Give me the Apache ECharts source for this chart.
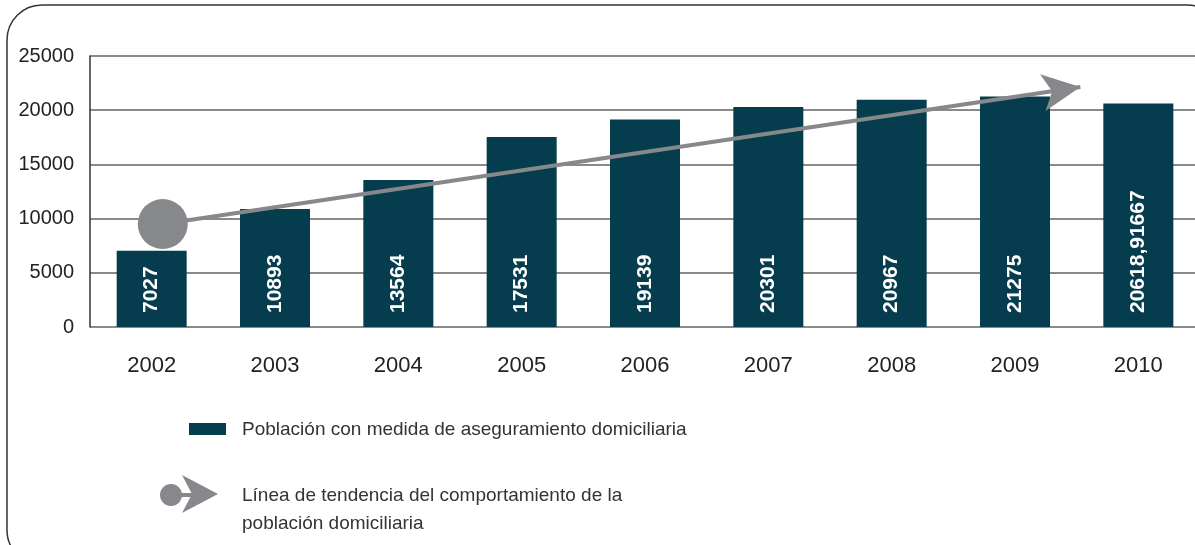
<!DOCTYPE html>
<html lang="es">
<head>
    <meta charset="UTF-8">
    <title>Población domiciliaria</title>
    <script src="https://cdn.jsdelivr.net/npm/echarts@6/dist/echarts.min.js"></script>
    <style>
        html, body { margin: 0; padding: 0; background: #fff; overflow: hidden; }
        #container { width: 1205px; height: 545px; }
    </style>
</head>
<body>
<div id="container"></div>

<script type="text/javascript">
    // datos
    var years = ['2002', '2003', '2004', '2005', '2006', '2007', '2008', '2009', '2010'];
    var poblacion = [7027, 10893, 13564, 17531, 19139, 20301, 20967, 21275, 20618.91667];
    var barLabels = ['7027', '10893', '13564', '17531', '19139', '20301', '20967', '21275', '20618,91667'];
    var yTicks = [0, 5000, 10000, 15000, 20000, 25000];

    // línea de tendencia: inicio (círculo) y punta de la flecha, en posición de categoría
    var trendX = [0.09, 7.53];
    var trendY = [9500, 22140];

    var legendBar = 'Población con medida de aseguramiento domiciliaria';
    var legendTrend = ['Línea de tendencia del comportamiento de la', 'población domiciliaria'];

    var barColor = '#053d4e';
    var trendColor = '#87888b';
    var font = '"Liberation Sans", Arial, sans-serif';

    var myChart = echarts.init(document.getElementById('container'), null, {renderer: 'canvas'});

    var option = {
        animation: false,
        backgroundColor: '#fff',
        grid: {left: 90, top: 56, width: 1110, height: 271},
        xAxis: [
            {
                type: 'category',
                data: years,
                axisLine: {show: false},
                axisTick: {show: false},
                axisLabel: {color: '#222', fontSize: 22, fontFamily: font, margin: 28}
            },
            {
                type: 'value',
                min: -0.5,
                max: years.length - 0.5,
                show: false
            }
        ],
        yAxis: {
            type: 'value',
            min: yTicks[0],
            max: yTicks[yTicks.length - 1],
            interval: 5000,
            axisLine: {show: true, onZero: false, lineStyle: {color: '#333', width: 1.5}},
            axisTick: {show: false},
            axisLabel: {
                color: '#222', fontSize: 20, fontFamily: font, margin: 16,
                formatter: function (v) { return String(v); }
            },
            splitLine: {lineStyle: {color: '#8a8a8a', width: 2}}
        },
        series: [
            {
                name: legendBar,
                type: 'bar',
                data: poblacion,
                barWidth: 70,
                itemStyle: {color: barColor},
                label: {
                    show: true,
                    position: 'insideBottom',
                    rotate: 90,
                    align: 'left',
                    verticalAlign: 'middle',
                    distance: 14,
                    color: '#fff',
                    fontWeight: 'bold',
                    fontSize: 21,
                    fontFamily: font,
                    formatter: function (p) { return barLabels[p.dataIndex]; }
                },
                z: 2
            },
            {
                type: 'line',
                xAxisIndex: 1,
                data: [
                    {value: [trendX[0], trendY[0]], symbol: 'circle', symbolSize: 50},
                    {value: [trendX[1], trendY[1]], symbol: 'arrow', symbolSize: [28, 38], symbolRotate: -81.5}
                ],
                showSymbol: true,
                lineStyle: {color: trendColor, width: 4},
                itemStyle: {color: trendColor, borderWidth: 0},
                z: 5
            }
        ],
        graphic: [
            // marco redondeado
            {
                type: 'rect',
                shape: {x: 7, y: 5, width: 1215, height: 560, r: 35},
                style: {fill: 'none', stroke: '#333', lineWidth: 1.5},
                silent: true
            },
            // leyenda barras
            {
                type: 'rect',
                shape: {x: 189, y: 423, width: 37, height: 12},
                style: {fill: barColor}
            },
            {
                type: 'text',
                x: 242, y: 430,
                style: {text: legendBar, fill: '#333', fontSize: 19, fontFamily: font, verticalAlign: 'middle'}
            },
            // leyenda tendencia
            {
                type: 'line',
                shape: {x1: 171, y1: 495, x2: 200, y2: 495},
                style: {stroke: trendColor, lineWidth: 4}
            },
            {
                type: 'circle',
                shape: {cx: 171, cy: 495, r: 11},
                style: {fill: trendColor}
            },
            {
                type: 'polygon',
                shape: {points: [[182, 475], [218, 494], [182, 513], [192, 494]]},
                style: {fill: trendColor}
            },
            {
                type: 'text',
                x: 242, y: 496,
                style: {text: legendTrend[0], fill: '#333', fontSize: 19, fontFamily: font, verticalAlign: 'middle'}
            },
            {
                type: 'text',
                x: 242, y: 524,
                style: {text: legendTrend[1], fill: '#333', fontSize: 19, fontFamily: font, verticalAlign: 'middle'}
            }
        ]
    };

    myChart.setOption(option);
</script>
</body>
</html>
